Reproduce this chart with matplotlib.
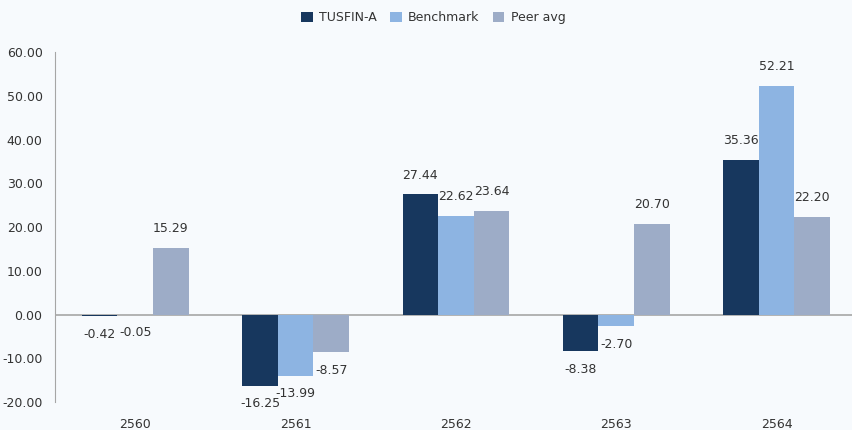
import numpy as np
import matplotlib.pyplot as plt

years = ["2560", "2561", "2562", "2563", "2564"]
tusfin = [-0.42, -16.25, 27.44, -8.38, 35.36]
bench = [-0.05, -13.99, 22.62, -2.70, 52.21]
peer = [15.29, -8.57, 23.64, 20.70, 22.20]

series = [("TUSFIN-A", tusfin, "#17375E"),
          ("Benchmark", bench, "#8DB4E2"),
          ("Peer avg", peer, "#9DACC7")]

bg = "#F7FAFD"
txt = "#333333"
plt.rcParams['font.family'] = ['DejaVu Sans']

fig = plt.figure(figsize=(8.53, 4.30), dpi=100, facecolor=bg)
ax = fig.add_axes([0.0645, 0.065, 0.94, 0.814])
ax.set_facecolor(bg)

x = np.arange(len(years))
w = 0.222
for i, (name, vals, col) in enumerate(series):
    xs = x + (i - 1) * w
    ax.bar(xs, vals, w, color=col, label=name, zorder=2)
    for xi, v in zip(xs, vals):
        off = 14 if v >= 0 else -13
        ax.annotate("%.2f" % v, (xi, v), xytext=(0, off), textcoords="offset points",
                    ha="center", va="center", fontsize=9, color=txt)

ax.axhline(0, color="#A6A6A6", lw=1.2, zorder=1)
ax.set_xlim(-0.5, 4.5)
ax.set_ylim(-20, 60)
ax.set_yticks(np.arange(-20, 61, 10))
ax.set_yticklabels(["%.2f" % v for v in np.arange(-20, 61, 10)])
ax.set_xticks(x)
ax.set_xticklabels(years)
ax.tick_params(axis="y", length=0, pad=9, labelsize=9, labelcolor=txt)
ax.tick_params(axis="x", length=0, pad=11.5, labelsize=9, labelcolor=txt)
for s in ["top", "right", "bottom"]:
    ax.spines[s].set_visible(False)
ax.spines["left"].set_color("#A6A6A6")

fig.legend(loc="upper center", bbox_to_anchor=(0.508, 1.0), ncol=3, frameon=False,
           fontsize=9, handlelength=0.9, handleheight=0.9, handletextpad=0.5,
           columnspacing=1.1, labelcolor=txt)

plt.savefig("out.png", dpi=100, facecolor=bg)
